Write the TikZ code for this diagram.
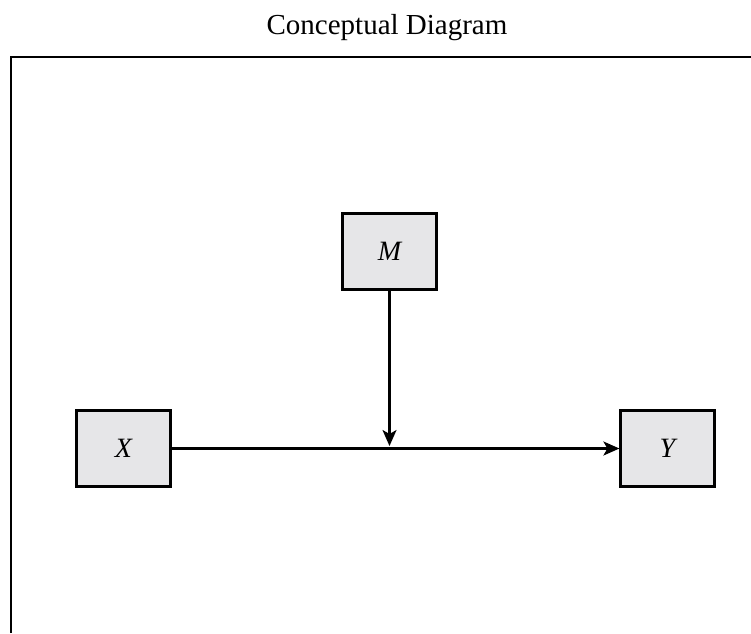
\documentclass[tikz,border=0pt]{standalone}
\usepackage{fontspec}
\setmainfont{Liberation Serif}
\usetikzlibrary{arrows.meta}
\definecolor{boxgray}{RGB}{230,230,232}

\begin{document}
\begin{tikzpicture}[x=1pt,y=1pt,font=\fontsize{28}{32}\selectfont]
    \tikzstyle{box}=[rectangle,draw,line width=2.2pt,fill=boxgray,minimum width=94pt,minimum height=76pt,inner sep=0pt,font=\fontsize{28}{32}\selectfont\itshape]
    \tikzstyle{link}=[-{Stealth[length=16pt,width=14pt,inset=4pt]},line width=2.2pt]
    \useasboundingbox (0,0) rectangle (751,-633);
    \node [font=\fontsize{29}{33}\selectfont] (title) at (387,-28) {Conceptual Diagram};
    \draw [line width=2.4pt] (11,-633) -- (11,-57) -- (751,-57);
    \node [box] (m) at (389.5,-251.5) {M};
    \node [box] (x) at (123.5,-448.5) {X};
    \node [box] (y) at (667.5,-448.5) {Y};
    \coordinate (hit) at (389.5,-446);
    \draw [link] (x.east) -- (y.west);
    \draw [link] (m.south) -- (hit);
  \end{tikzpicture}
\end{document}
